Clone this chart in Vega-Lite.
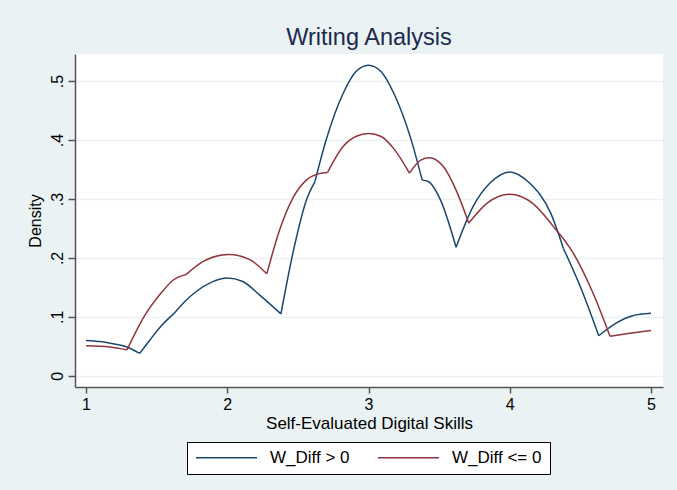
{
  "$schema": "https://vega.github.io/schema/vega-lite/v6.json",
  "width": 588,
  "height": 333,
  "autosize": {"type": "none"},
  "padding": {"left": 75, "top": 54, "right": 14, "bottom": 103},
  "background": "#EAF2F3",
  "config": {
    "font": "Liberation Sans",
    "view": {"fill": "white", "stroke": null}
  },
  "title": {
    "text": "Writing Analysis",
    "fontSize": 23.5,
    "fontWeight": "normal",
    "color": "#1c2a4d",
    "anchor": "middle",
    "offset": 5
  },
  "data": {
    "values": [
      {"group": "W_Diff > 0", "piece": "p1", "skill": 1.0, "density": 0.060},
      {"group": "W_Diff > 0", "piece": "p1", "skill": 1.1, "density": 0.058},
      {"group": "W_Diff > 0", "piece": "p1", "skill": 1.2, "density": 0.054},
      {"group": "W_Diff > 0", "piece": "p1", "skill": 1.29, "density": 0.049},
      {"group": "W_Diff > 0", "piece": "p1", "skill": 1.38, "density": 0.038},
      {"group": "W_Diff > 0", "piece": "p2", "skill": 1.38, "density": 0.038},
      {"group": "W_Diff > 0", "piece": "p2", "skill": 1.45, "density": 0.060},
      {"group": "W_Diff > 0", "piece": "p2", "skill": 1.53, "density": 0.084},
      {"group": "W_Diff > 0", "piece": "p2", "skill": 1.62, "density": 0.105},
      {"group": "W_Diff > 0", "piece": "p3", "skill": 1.62, "density": 0.105},
      {"group": "W_Diff > 0", "piece": "p3", "skill": 1.70, "density": 0.126},
      {"group": "W_Diff > 0", "piece": "p3", "skill": 1.78, "density": 0.143},
      {"group": "W_Diff > 0", "piece": "p3", "skill": 1.89, "density": 0.159},
      {"group": "W_Diff > 0", "piece": "p3", "skill": 2.0, "density": 0.166},
      {"group": "W_Diff > 0", "piece": "p3", "skill": 2.11, "density": 0.160},
      {"group": "W_Diff > 0", "piece": "p3", "skill": 2.23, "density": 0.137},
      {"group": "W_Diff > 0", "piece": "p3", "skill": 2.38, "density": 0.105},
      {"group": "W_Diff > 0", "piece": "p4", "skill": 2.38, "density": 0.105},
      {"group": "W_Diff > 0", "piece": "p4", "skill": 2.47, "density": 0.214},
      {"group": "W_Diff > 0", "piece": "p4", "skill": 2.56, "density": 0.298},
      {"group": "W_Diff > 0", "piece": "p4", "skill": 2.62, "density": 0.329},
      {"group": "W_Diff > 0", "piece": "p5", "skill": 2.62, "density": 0.329},
      {"group": "W_Diff > 0", "piece": "p5", "skill": 2.70, "density": 0.400},
      {"group": "W_Diff > 0", "piece": "p5", "skill": 2.82, "density": 0.479},
      {"group": "W_Diff > 0", "piece": "p5", "skill": 2.91, "density": 0.516},
      {"group": "W_Diff > 0", "piece": "p5", "skill": 3.0, "density": 0.527},
      {"group": "W_Diff > 0", "piece": "p5", "skill": 3.09, "density": 0.516},
      {"group": "W_Diff > 0", "piece": "p5", "skill": 3.18, "density": 0.479},
      {"group": "W_Diff > 0", "piece": "p5", "skill": 3.30, "density": 0.402},
      {"group": "W_Diff > 0", "piece": "p5", "skill": 3.38, "density": 0.332},
      {"group": "W_Diff > 0", "piece": "p6", "skill": 3.38, "density": 0.332},
      {"group": "W_Diff > 0", "piece": "p6", "skill": 3.42, "density": 0.330},
      {"group": "W_Diff > 0", "piece": "p6", "skill": 3.51, "density": 0.298},
      {"group": "W_Diff > 0", "piece": "p6", "skill": 3.62, "density": 0.218},
      {"group": "W_Diff > 0", "piece": "p7", "skill": 3.62, "density": 0.218},
      {"group": "W_Diff > 0", "piece": "p7", "skill": 3.74, "density": 0.287},
      {"group": "W_Diff > 0", "piece": "p7", "skill": 3.86, "density": 0.327},
      {"group": "W_Diff > 0", "piece": "p7", "skill": 4.0, "density": 0.346},
      {"group": "W_Diff > 0", "piece": "p7", "skill": 4.14, "density": 0.327},
      {"group": "W_Diff > 0", "piece": "p7", "skill": 4.29, "density": 0.276},
      {"group": "W_Diff > 0", "piece": "p7", "skill": 4.38, "density": 0.216},
      {"group": "W_Diff > 0", "piece": "p8", "skill": 4.38, "density": 0.216},
      {"group": "W_Diff > 0", "piece": "p8", "skill": 4.50, "density": 0.151},
      {"group": "W_Diff > 0", "piece": "p8", "skill": 4.63, "density": 0.068},
      {"group": "W_Diff > 0", "piece": "p9", "skill": 4.63, "density": 0.068},
      {"group": "W_Diff > 0", "piece": "p9", "skill": 4.75, "density": 0.089},
      {"group": "W_Diff > 0", "piece": "p9", "skill": 4.87, "density": 0.102},
      {"group": "W_Diff > 0", "piece": "p9", "skill": 5.0, "density": 0.106},
      {"group": "W_Diff <= 0", "piece": "n1", "skill": 1.0, "density": 0.051},
      {"group": "W_Diff <= 0", "piece": "n1", "skill": 1.17, "density": 0.049},
      {"group": "W_Diff <= 0", "piece": "n1", "skill": 1.29, "density": 0.044},
      {"group": "W_Diff <= 0", "piece": "n2", "skill": 1.29, "density": 0.044},
      {"group": "W_Diff <= 0", "piece": "n2", "skill": 1.41, "density": 0.100},
      {"group": "W_Diff <= 0", "piece": "n2", "skill": 1.53, "density": 0.140},
      {"group": "W_Diff <= 0", "piece": "n2", "skill": 1.62, "density": 0.163},
      {"group": "W_Diff <= 0", "piece": "n2", "skill": 1.71, "density": 0.172},
      {"group": "W_Diff <= 0", "piece": "n3", "skill": 1.71, "density": 0.172},
      {"group": "W_Diff <= 0", "piece": "n3", "skill": 1.83, "density": 0.194},
      {"group": "W_Diff <= 0", "piece": "n3", "skill": 2.01, "density": 0.206},
      {"group": "W_Diff <= 0", "piece": "n3", "skill": 2.16, "density": 0.197},
      {"group": "W_Diff <= 0", "piece": "n3", "skill": 2.28, "density": 0.173},
      {"group": "W_Diff <= 0", "piece": "n4", "skill": 2.28, "density": 0.173},
      {"group": "W_Diff <= 0", "piece": "n4", "skill": 2.37, "density": 0.247},
      {"group": "W_Diff <= 0", "piece": "n4", "skill": 2.47, "density": 0.304},
      {"group": "W_Diff <= 0", "piece": "n4", "skill": 2.56, "density": 0.332},
      {"group": "W_Diff <= 0", "piece": "n4", "skill": 2.65, "density": 0.343},
      {"group": "W_Diff <= 0", "piece": "n4", "skill": 2.71, "density": 0.345},
      {"group": "W_Diff <= 0", "piece": "n5", "skill": 2.71, "density": 0.345},
      {"group": "W_Diff <= 0", "piece": "n5", "skill": 2.82, "density": 0.389},
      {"group": "W_Diff <= 0", "piece": "n5", "skill": 2.91, "density": 0.406},
      {"group": "W_Diff <= 0", "piece": "n5", "skill": 3.0, "density": 0.411},
      {"group": "W_Diff <= 0", "piece": "n5", "skill": 3.09, "density": 0.406},
      {"group": "W_Diff <= 0", "piece": "n5", "skill": 3.18, "density": 0.385},
      {"group": "W_Diff <= 0", "piece": "n5", "skill": 3.29, "density": 0.344},
      {"group": "W_Diff <= 0", "piece": "n6", "skill": 3.29, "density": 0.344},
      {"group": "W_Diff <= 0", "piece": "n6", "skill": 3.37, "density": 0.366},
      {"group": "W_Diff <= 0", "piece": "n6", "skill": 3.43, "density": 0.370},
      {"group": "W_Diff <= 0", "piece": "n6", "skill": 3.53, "density": 0.355},
      {"group": "W_Diff <= 0", "piece": "n6", "skill": 3.62, "density": 0.315},
      {"group": "W_Diff <= 0", "piece": "n6", "skill": 3.71, "density": 0.259},
      {"group": "W_Diff <= 0", "piece": "n7", "skill": 3.71, "density": 0.259},
      {"group": "W_Diff <= 0", "piece": "n7", "skill": 3.84, "density": 0.293},
      {"group": "W_Diff <= 0", "piece": "n7", "skill": 4.0, "density": 0.308},
      {"group": "W_Diff <= 0", "piece": "n7", "skill": 4.16, "density": 0.293},
      {"group": "W_Diff <= 0", "piece": "n7", "skill": 4.31, "density": 0.253},
      {"group": "W_Diff <= 0", "piece": "n8", "skill": 4.31, "density": 0.253},
      {"group": "W_Diff <= 0", "piece": "n8", "skill": 4.45, "density": 0.208},
      {"group": "W_Diff <= 0", "piece": "n8", "skill": 4.59, "density": 0.140},
      {"group": "W_Diff <= 0", "piece": "n8", "skill": 4.71, "density": 0.067},
      {"group": "W_Diff <= 0", "piece": "n9", "skill": 4.71, "density": 0.067},
      {"group": "W_Diff <= 0", "piece": "n9", "skill": 4.85, "density": 0.072},
      {"group": "W_Diff <= 0", "piece": "n9", "skill": 5.0, "density": 0.077}
    ]
  },
  "mark": {"type": "line", "interpolate": "monotone", "strokeWidth": 1.5},
  "encoding": {
    "detail": {"field": "piece", "type": "nominal"},
    "x": {
      "field": "skill",
      "type": "quantitative",
      "scale": {"domain": [0.922, 5.085], "nice": false, "zero": false},
      "axis": {
        "values": [1, 2, 3, 4, 5],
        "title": "Self-Evaluated Digital Skills",
        "titleFontSize": 17,
        "titleFontWeight": "normal",
        "titleColor": "black",
        "titlePadding": 3,
        "labelFontSize": 16,
        "labelColor": "black",
        "labelPadding": 3,
        "domainColor": "#555555",
        "domainWidth": 1.5,
        "tickColor": "#555555",
        "tickWidth": 1.5,
        "tickSize": 6,
        "grid": false
      }
    },
    "y": {
      "field": "density",
      "type": "quantitative",
      "scale": {"domain": [-0.019, 0.546], "nice": false, "zero": false},
      "axis": {
        "values": [0, 0.1, 0.2, 0.3, 0.4, 0.5],
        "labelExpr": "datum.value == 0 ? '0' : replace(format(datum.value, '.1f'), '0.', '.')",
        "labelAngle": -90,
        "labelAlign": "center",
        "labelBaseline": "bottom",
        "labelFontSize": 16,
        "labelColor": "black",
        "labelPadding": 3,
        "title": "Density",
        "titleFontSize": 16,
        "titleFontWeight": "normal",
        "titleColor": "black",
        "titlePadding": 6,
        "domainColor": "#555555",
        "domainWidth": 1.5,
        "tickColor": "#555555",
        "tickWidth": 1.5,
        "tickSize": 7,
        "grid": true,
        "gridColor": "#EAF2F3",
        "gridWidth": 1.5
      }
    },
    "color": {
      "field": "group",
      "type": "nominal",
      "scale": {"domain": ["W_Diff > 0", "W_Diff <= 0"], "range": ["#1a476f", "#90353b"]},
      "legend": {
        "title": null,
        "orient": "none",
        "direction": "horizontal",
        "legendX": 112,
        "legendY": 388,
        "fillColor": "white",
        "strokeColor": "black",
        "padding": 8,
        "symbolType": "stroke",
        "symbolSize": 3721,
        "symbolStrokeWidth": 1.5,
        "clipHeight": 15,
        "labelFontSize": 17,
        "labelColor": "black",
        "labelOffset": 12,
        "columnPadding": 27,
        "labelLimit": 200
      }
    }
  }
}
